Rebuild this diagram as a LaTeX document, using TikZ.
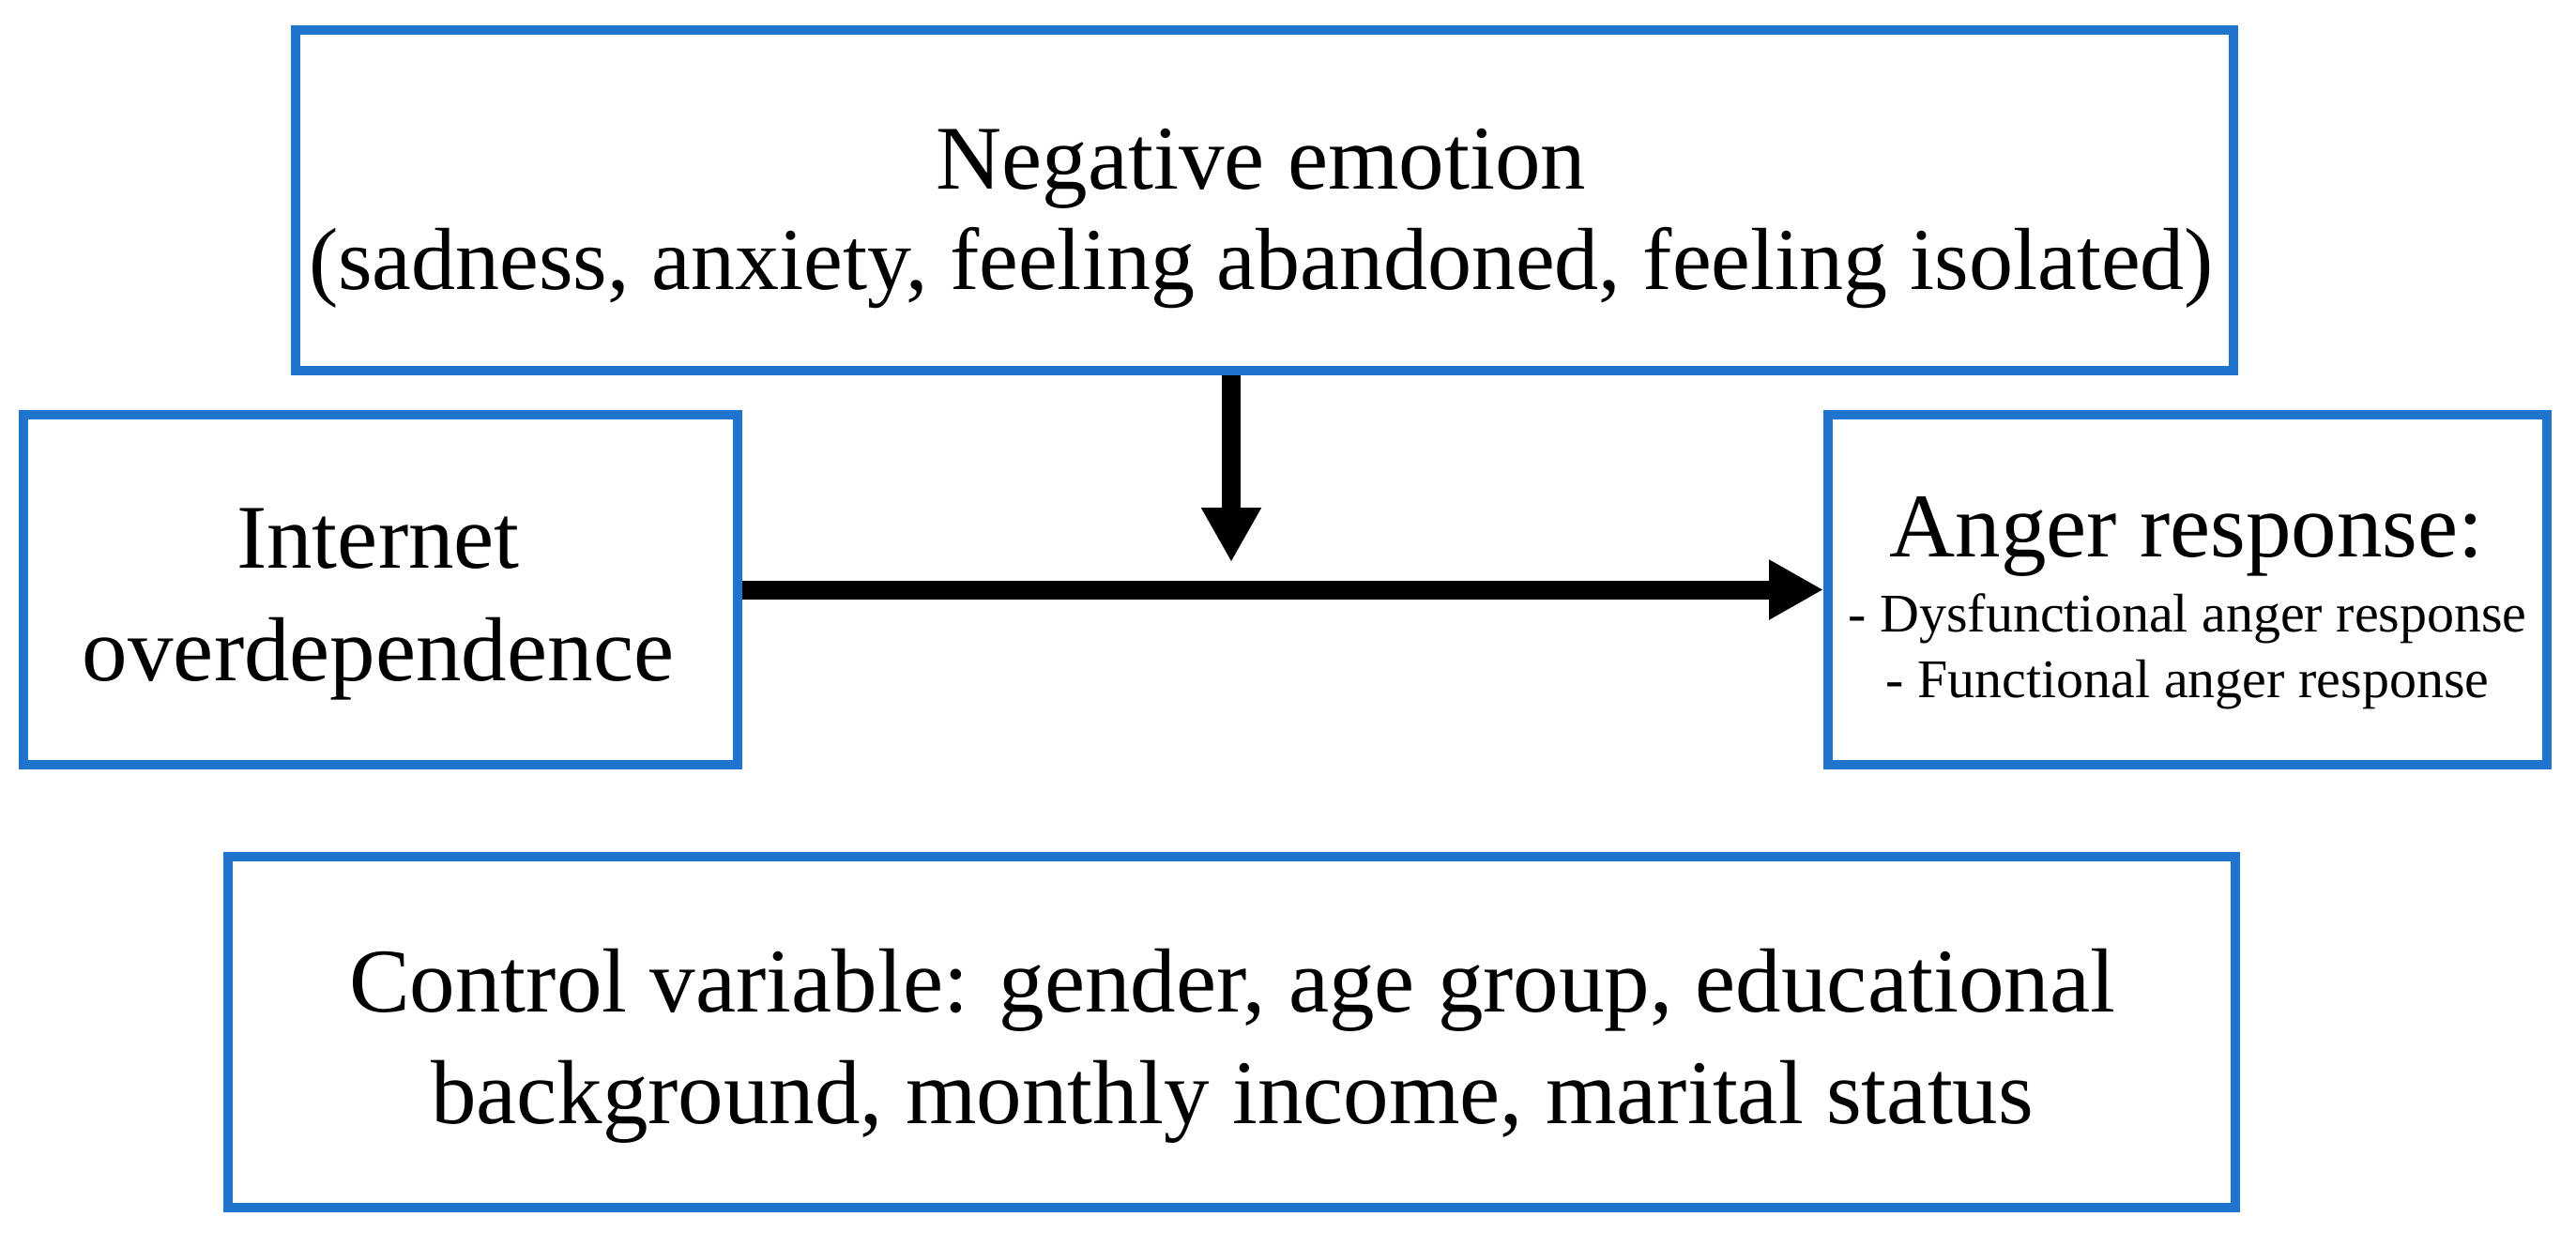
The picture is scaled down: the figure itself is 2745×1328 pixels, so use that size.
\documentclass[tikz,border=0pt]{standalone}
\usepackage{fontspec}
\setmainfont{Liberation Serif}
\usetikzlibrary{arrows.meta}
\definecolor{boxblue}{RGB}{31,117,205}
\begin{document}
\begin{tikzpicture}[x=1pt,y=-1pt,
  box/.style={draw=boxblue, line width=10pt, inner sep=0pt, fill=white},
  big/.style={font=\fontsize{97}{116}\selectfont, anchor=base, inner sep=0pt},
  small/.style={font=\fontsize{58}{70}\selectfont, anchor=base, inner sep=0pt},
  arr/.style={line width=20pt, -{Triangle[length=58pt,width=60pt]}}]
\useasboundingbox[fill=white] (0,0) rectangle (2745,1328);
\node[box, minimum width=2065pt, minimum height=363pt] (neg) at (1347.5,213.5) {};
\node[box, minimum width=761pt, minimum height=373pt] (inet) at (405.5,628.5) {};
\node[box, minimum width=766pt, minimum height=373pt] (anger) at (2331,628.5) {};
\node[box, minimum width=2139pt, minimum height=374pt] (ctrl) at (1312.5,1100) {};
\node[big] (negA) at (1344,201) {Negative emotion};
\node[big, font=\fontsize{94}{112}\selectfont] (negB) at (1344,308) {(sadness, anxiety, feeling abandoned, feeling isolated)};
\node[big] (inetA) at (403,605) {Internet};
\node[big] (inetB) at (403,725) {overdependence};
\node[big] (angA) at (2330,593) {Anger response:};
\node[small] (angB) at (2331,673) {- Dysfunctional anger response};
\node[small] (angC) at (2331,743) {- Functional anger response};
\node[big] (ctrlA) at (1313,1078) {Control variable: gender, age group, educational};
\node[big] (ctrlB) at (1313,1197) {background, monthly income, marital status};
\coordinate (vtip) at (1312,599);
\draw[arr] (neg.south -| vtip) -- (vtip);
\draw[arr] (inet.east) -- (anger.west);
\end{tikzpicture}
\end{document}
